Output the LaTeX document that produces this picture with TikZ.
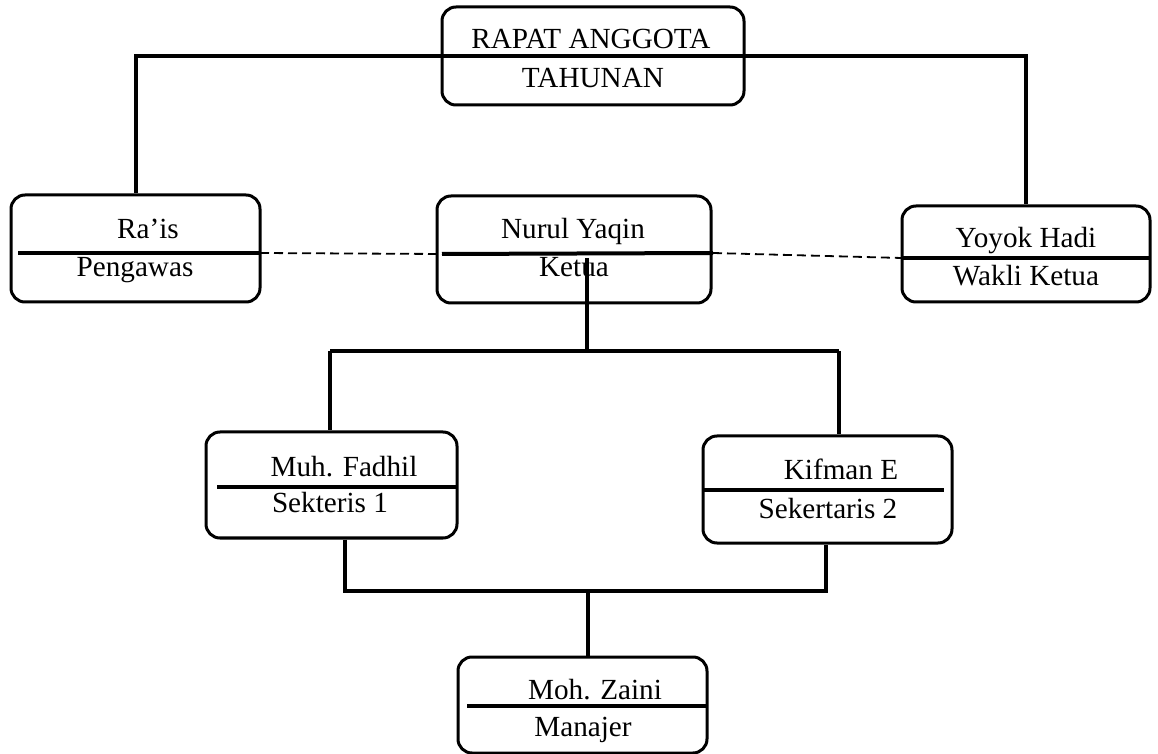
\documentclass[tikz,border=0pt]{standalone}
\usepackage{fontspec}
\setmainfont{Liberation Serif}
\tikzset{
  kotak/.style 2 args={draw, line width=1.5pt, rounded corners=7pt, minimum width=#1*0.5pt, minimum height=#2*0.5pt, inner sep=0pt},
  teks/.style={anchor=base, inner sep=0pt, font=\fontsize{14.6}{17}\selectfont},
  garis/.style={line width=2pt},
  putus/.style={line width=0.9pt, dash pattern=on 4.5pt off 2.5pt}
}
\begin{document}
\begin{tikzpicture}[x=0.5pt,y=-0.5pt]
                \useasboundingbox (0,0) rectangle (1158,754);
                \node[kotak={302}{98}] (rapat) at (593,56) {};
                \node[kotak={249}{107}] (rais) at (135.5,248.5) {};
                \node[kotak={274}{107}] (ketua) at (574,249.5) {};
                \node[kotak={248}{96}] (wakil) at (1026,254) {};
                \node[kotak={251}{106}] (sek1) at (331.5,485) {};
                \node[kotak={249}{107}] (sek2) at (827.5,489.5) {};
                \node[kotak={249}{96}] (manajer) at (582.5,705) {};
                \node[teks] (rapat1) at (591,49) {RAPAT ANGGOTA};
                \node[teks] (rapat2) at (593,88) {TAHUNAN};
                \node[teks] (rais1) at (148,239) {Ra’is};
                \node[teks] (rais2) at (135,277) {Pengawas};
                \node[teks] (ketua1) at (573,239) {Nurul Yaqin};
                \node[teks] (ketua2) at (574,277) {Ketua};
                \node[teks] (wakil1) at (1026,248) {Yoyok Hadi};
                \node[teks] (wakil2) at (1026,286) {Wakli Ketua};
                \node[teks] (sek11) at (344,477) {Muh. Fadhil};
                \node[teks] (sek12) at (330,513) {Sekteris 1};
                \node[teks] (sek21) at (841,480) {Kifman E};
                \node[teks] (sek22) at (828,518) {Sekertaris 2};
                \node[teks] (manajer1) at (595,699) {Moh. Zaini};
                \node[teks] (manajer2) at (583,736) {Manajer};
                \coordinate (raisA) at (18,253);
                \coordinate (raisB) at (260,253);
                \coordinate (ketuaA) at (442,254);
                \coordinate (ketuaB) at (713,253);
                \coordinate (ketuaC) at (587,258);
                \coordinate (wakilA) at (902,258);
                \coordinate (wakilB) at (1150,258);
                \coordinate (sek1A) at (217,487);
                \coordinate (sek1B) at (457,487);
                \coordinate (sek2A) at (703,490);
                \coordinate (sek2B) at (944,490);
                \coordinate (manajerA) at (467,706);
                \coordinate (manajerB) at (707,706);
                \coordinate (kiri1) at (330,351);
                \coordinate (kanan1) at (839,351);
                \coordinate (cabang1) at (587,351);
                \coordinate (kiri2) at (345,591);
                \coordinate (kanan2) at (826,591);
                \coordinate (cabang2) at (588,591);
                \draw[garis] (rapat.west) -- (rapat.east);
                \draw[garis] (raisA) -- (raisB);
                \draw[garis] (ketuaA) -- (ketuaB);
                \draw[garis] (wakilA) -- (wakilB);
                \draw[garis] (sek1A) -- (sek1B);
                \draw[garis] (sek2A) -- (sek2B);
                \draw[garis] (manajerA) -- (manajerB);
                \draw[garis] (rapat.west) -| (rais.north);
                \draw[garis] (rapat.east) -| (wakil.north);
                \draw[putus] (raisB) -- (ketuaA);
                \draw[putus] (ketuaB) -- (wakilA);
                \draw[garis] (ketuaC) -- (cabang1);
                \draw[garis] (kiri1) -- (kanan1);
                \draw[garis] (kiri1) -- (kiri1 |- sek1.north);
                \draw[garis] (kanan1) -- (kanan1 |- sek2.north);
                \draw[garis] (kiri2 |- sek1.south) -- (kiri2) -- (kanan2) -- (kanan2 |- sek2.south);
                \draw[garis] (cabang2) -- (cabang2 |- manajer.north);
\end{tikzpicture}
\end{document}
